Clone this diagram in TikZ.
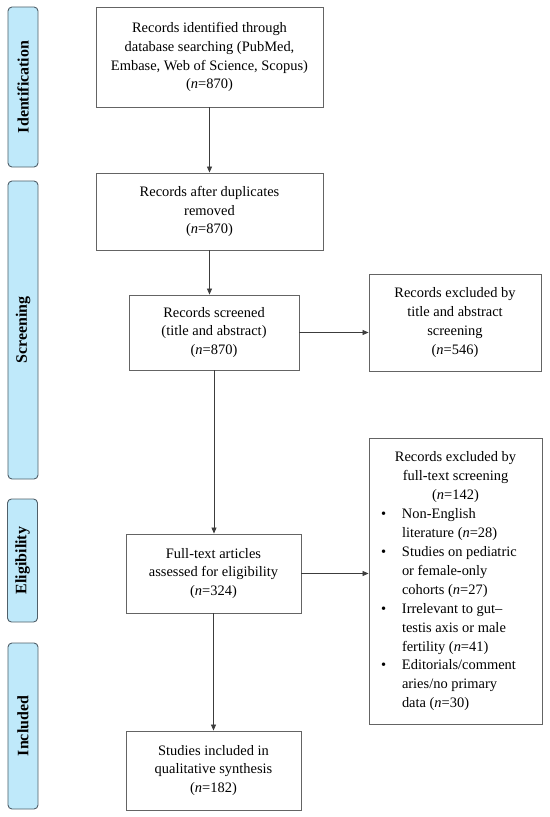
\documentclass[tikz,border=0pt]{standalone}
\usepackage{fontspec}
\setmainfont{Liberation Serif}
\usepackage{array}
\usetikzlibrary{arrows.meta}
\definecolor{sidefill}{RGB}{191,233,250}
\definecolor{sideline}{RGB}{80,95,105}
\definecolor{boxline}{RGB}{100,100,100}
\definecolor{arrline}{RGB}{60,60,60}
\begin{document}
\begin{tikzpicture}[x=1bp,y=-1bp,
  box/.style={draw=boxline,line width=0.9bp,fill=white,align=center,inner sep=0pt,
    font=\fontsize{14.5}{19}\selectfont},
  side/.style={draw=sideline,line width=0.9bp,fill=sidefill,rounded corners=4bp,
    minimum width=30bp,inner sep=0pt,font=\fontsize{16}{16}\selectfont\bfseries},
  arr/.style={draw=arrline,line width=0.8bp,-{Triangle[length=6bp,width=5bp]}}]
\useasboundingbox (0,0) rectangle (550,817);
% side labels
\node[side,minimum height=160bp] (sid) at (23,87) {\rotatebox{90}{Identification}};
\node[side,minimum height=298bp] (ssc) at (23,330) {\rotatebox{90}{Screening}};
\node[side,minimum height=123bp] (sel) at (22.5,560.5) {\rotatebox{90}{Eligibility}};
\node[side,minimum height=166bp] (sin) at (23,726) {\rotatebox{90}{Included}};
% boxes
\node[box,minimum width=227bp,minimum height=100bp] (b1) at (209.5,57)
  {Records identified through\\database searching (PubMed,\\Embase, Web of Science, Scopus)\\(\textit{n}=870)};
\node[box,minimum width=227bp,minimum height=77bp] (b2) at (209.5,211.5)
  {Records after duplicates\\removed\\(\textit{n}=870)};
\node[box,minimum width=170bp,minimum height=75bp] (b3) at (214,332.5)
  {Records screened\\(title and abstract)\\(\textit{n}=870)};
\node[box,minimum width=172bp,minimum height=97bp] (e1) at (455,322.5)
  {Records excluded by\\title and abstract\\screening\\(\textit{n}=546)};
\node[box,minimum width=175bp,minimum height=79bp] (b4) at (213.5,573.5)
  {Full-text articles\\assessed for eligibility\\(\textit{n}=324)};
\node[box,minimum width=173bp,minimum height=286bp] (e2) at (455.5,581)
  {\begin{tabular}{@{}p{23bp}@{}p{130bp}@{}}
   \multicolumn{2}{@{}c@{}}{Records excluded by}\\
   \multicolumn{2}{@{}c@{}}{full-text screening}\\
   \multicolumn{2}{@{}c@{}}{(\textit{n}=142)}\\
   \hspace{2bp}\textbullet & Non-English\\
   & literature (\textit{n}=28)\\
   \hspace{2bp}\textbullet & Studies on pediatric\\
   & or female-only\\
   & cohorts (\textit{n}=27)\\
   \hspace{2bp}\textbullet & Irrelevant to gut–\\
   & testis axis or male\\
   & fertility (\textit{n}=41)\\
   \hspace{2bp}\textbullet & Editorials/comment\\
   & aries/no primary\\
   & data (\textit{n}=30)
   \end{tabular}};
\node[box,minimum width=175bp,minimum height=79bp] (b5) at (213.5,770.5)
  {Studies included in\\qualitative synthesis\\(\textit{n}=182)};
% connectors
\draw[arr] (b1.south) -- (b2.north);
\draw[arr] (b2.south) -- (b2.south |- b3.north);
\draw[arr] (b3.east) -- (b3.east -| e1.west);
\draw[arr] (b3.south) -- (b3.south |- b4.north);
\draw[arr] (b4.east) -- (b4.east -| e2.west);
\draw[arr] (b4.south) -- (b5.north);
\end{tikzpicture}
\end{document}
